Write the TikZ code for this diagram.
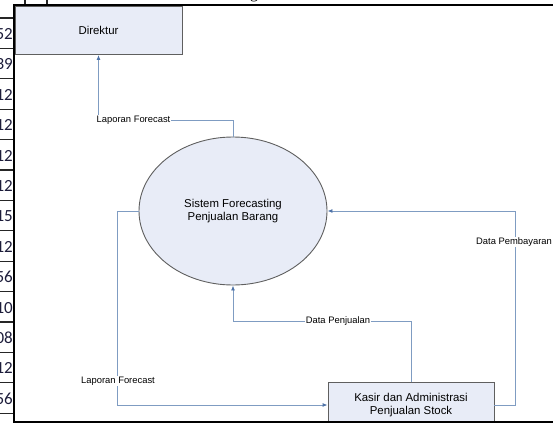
\documentclass[tikz,border=0pt]{standalone}
\usepackage{fontspec}
\setmainfont{Liberation Sans}
\newfontfamily\cellfont{Carlito}
\newfontfamily\capfont{Liberation Serif}
\usetikzlibrary{arrows.meta,shapes.geometric}
\definecolor{nodefill}{HTML}{E8ECF7}
\definecolor{nodeline}{HTML}{5F5F5F}
\definecolor{flowline}{HTML}{7F9CC2}
\definecolor{flowtip}{HTML}{4F73A8}
\definecolor{celldigit}{HTML}{1C1C3A}
\begin{document}
\begin{tikzpicture}[x=1pt,y=-1pt,
  entity/.style={draw=nodeline, fill=nodefill, line width=0.9pt, rectangle,
    inner sep=0pt, align=center, font=\fontsize{11.4}{13.5}\selectfont},
  process/.style={draw=nodeline, fill=nodefill, line width=0.9pt, ellipse,
    minimum width=188pt, minimum height=148pt, inner sep=0pt, align=center,
    font=\fontsize{11.4}{13.5}\selectfont},
  flow/.style={draw=flowline, line width=0.9pt,
    -{Latex[length=5pt,width=4pt,color=flowtip]}},
  flowlabel/.style={fill=white, inner sep=1pt, font=\fontsize{9.4}{11}\selectfont},
  cellrule/.style={draw=black!85, line width=1.3pt},
  celltext/.style={anchor=base east, inner sep=0pt, text=celldigit,
    font=\cellfont\fontsize{17}{17}\selectfont},
  frame/.style={draw=black, line width=2pt}]

\useasboundingbox (0,0) rectangle (553,425);
\clip (0,0) rectangle (553,425);

% spreadsheet column on the left
\foreach \i in {0,...,13}
  \draw[cellrule] (0,{18+30.4*\i}) -- (14,{18+30.4*\i});
\foreach \v [count=\i from 0] in {52,39,12,12,12,12,15,12,56,10,08,12,56}
  \node[celltext] (cell\i) at (13,{39.5+30.4*\i}) {\v};

% column rules and caption descender above the frame
\draw[cellrule] (25,0) -- (25,5);
\draw[cellrule] (47,0) -- (47,5);
\node[anchor=base, inner sep=0pt, font=\capfont\fontsize{16}{16}\selectfont] (capg) at (254,-1) {g};

% context diagram
\begin{scope}
\clip (15,6) rectangle (553,421);

\node[entity, minimum width=167pt, minimum height=48pt] (dir) at (98.5,30.5) {Direktur};
\node[process] (sys) at (233,211) {Sistem Forecasting\\Penjualan Barang};
\node[entity, minimum width=166pt, inner ysep=10pt] (kasir) at (411,405)
  {Kasir dan Administrasi\\Penjualan Stock};

\draw[flow] (sys.north) -- ++(0,-16) -| (dir.south);
\draw[flow] (sys.west) -- ++(-21,0) |- (kasir.west);
\draw[flow] (kasir.north) -- ++(0,-61) -| (sys.south);
\draw[flow] (kasir.east) -- ++(21,0) |- (sys.east);

\node[flowlabel] (lapdir) at (133.5,120.5) {Laporan Forecast};
\node[flowlabel] (lapkasir) at (118,381) {Laporan Forecast};
\node[flowlabel] (jual) at (338,321.5) {Data Penjualan};
\node[flowlabel] (bayar) at (514,242) {Data Pembayaran};
\end{scope}

% outer frame
\draw[frame] (14,5) rectangle (580,422);
\end{tikzpicture}
\end{document}
